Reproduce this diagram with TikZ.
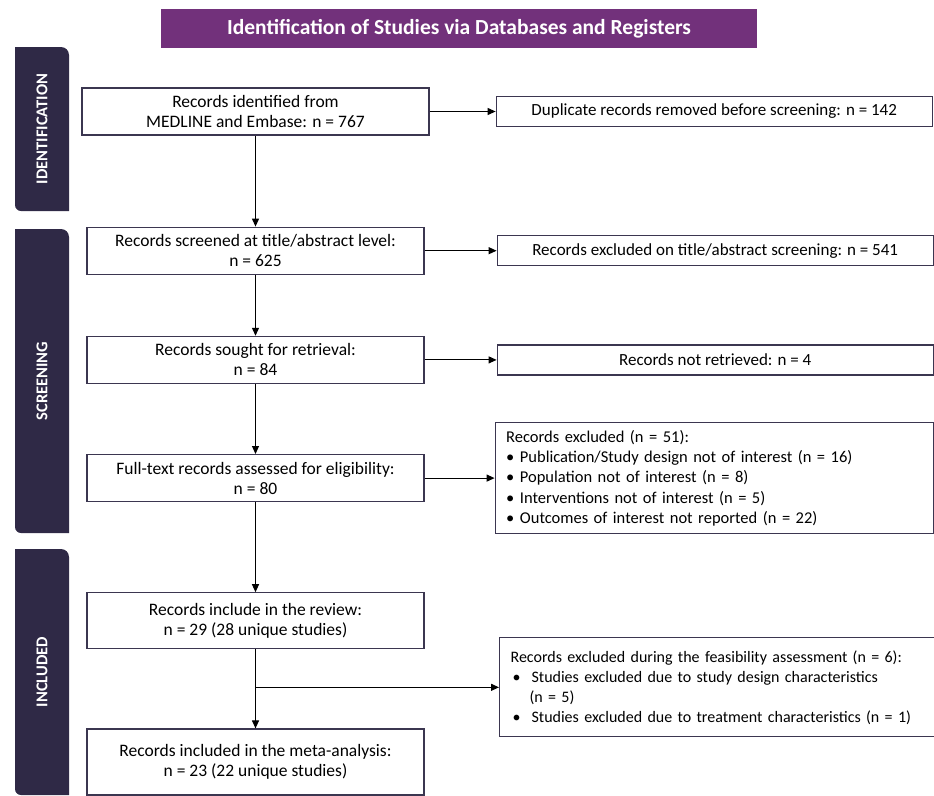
\documentclass[tikz,border=0pt]{standalone}
\usepackage{fontspec}
\setmainfont{Carlito}
\usepackage{xcolor}
\usetikzlibrary{arrows.meta,positioning,calc}
\definecolor{plum}{HTML}{72317B}
\definecolor{inkbar}{HTML}{2F2946}
\definecolor{edge}{HTML}{3B3650}

\begin{document}
\begin{tikzpicture}[x=1pt,y=1pt,font=\fontsize{17}{20}\selectfont,node distance=60pt and 66pt,
 box/.style={draw=edge,line width=1.2pt,align=center,minimum width=337pt,minimum height=47pt,inner sep=3pt,font=\fontsize{17.5}{20}\selectfont},
 side/.style={draw=edge,line width=1.2pt,align=center,minimum width=436pt,minimum height=30pt,inner sep=3pt},
 list/.style={draw=edge,line width=1.2pt,align=left,inner xsep=11pt,inner ysep=4pt,font=\fontsize{16.5}{20.3}\selectfont},
 band/.style={fill=inkbar},
 tag/.style={text=white,font=\bfseries\fontsize{16.5}{18}\selectfont,rotate=90},
 arr/.style={-{Triangle[length=8pt,width=7pt]},line width=1.1pt}]
\useasboundingbox (0,0) rectangle (934,-795);
% phase bands on the left
\foreach \t/\b/\lbl in {47/211/IDENTIFICATION,229/533/SCREENING,549/795/INCLUDED}{
 \fill[band] (15,-\t) -- (61,-\t) arc[start angle=90,end angle=0,radius=8pt] -- (69,-\b) -- (21,-\b) arc[start angle=270,end angle=180,radius=6pt] -- cycle;
 \node[tag] (\lbl) at (42,{-(\t+\b)/2}) {\lbl};
}
\node[fill=plum,text=white,font=\bfseries\fontsize{21.5}{24}\selectfont,minimum width=596pt,minimum height=39pt] (title) at (459,-28.5) {Identification of Studies via Databases and Registers};
% main column
\node[box,minimum width=347pt] (ident) at (255.5,-111.5) {Records identified from\\MEDLINE and Embase: n = 767};
\node[box,below=91pt of ident] (screen) {Records screened at title/abstract level:\\n = 625};
\node[box,below=61pt of screen] (sought) {Records sought for retrieval:\\n = 84};
\node[box,below=70pt of sought] (full) {Full-text records assessed for eligibility:\\n = 80};
\node[box,minimum height=56pt,below=90pt of full] (incl) {Records include in the review:\\n = 29 (28 unique studies)};
\node[box,minimum height=66pt,below=79pt of incl] (meta) {Records included in the meta-analysis:\\n = 23 (22 unique studies)};
\coordinate (split) at ($(incl.south)!0.48!(meta.north)$);
% exclusions
\node[side,right=66pt of ident] (dup) {Duplicate records removed before screening: n = 142};
\node[side,right=72pt of screen] (exscr) {Records excluded on title/abstract screening: n = 541};
\node[side,right=72pt of sought] (notret) {Records not retrieved: n = 4};
\node[list,text width=416pt,minimum height=111pt,right=70pt of full] (exfull) {Records excluded (n = 51):\\
\textbullet\ Publication/Study design not of interest (n = 16)\\
\textbullet\ Population not of interest (n = 8)\\
\textbullet\ Interventions not of interest (n = 5)\\
\textbullet\ Outcomes of interest not reported (n = 22)};
\node[list,text width=413pt,minimum height=99pt,font=\fontsize{16}{20}\selectfont,right=243.5pt of split] (exfeas) {Records excluded during the feasibility assessment (n = 6):\\
\hspace*{2pt}\textbullet\hspace{11pt}Studies excluded due to study design characteristics\\
\hspace*{19pt}(n = 5)\\
\hspace*{2pt}\textbullet\hspace{11pt}Studies excluded due to treatment characteristics (n = 1)};
\foreach \a/\b in {ident/screen,screen/sought,sought/full,full/incl,incl/meta}{\draw[arr] (\a.south) -- (\b.north);}
\foreach \a/\b in {ident/dup,screen/exscr,sought/notret,full/exfull}{\draw[arr] (\a.east) -- (\a.east -| \b.west);}
\draw[arr] (split) -- (split -| exfeas.west);
\end{tikzpicture}
\end{document}
